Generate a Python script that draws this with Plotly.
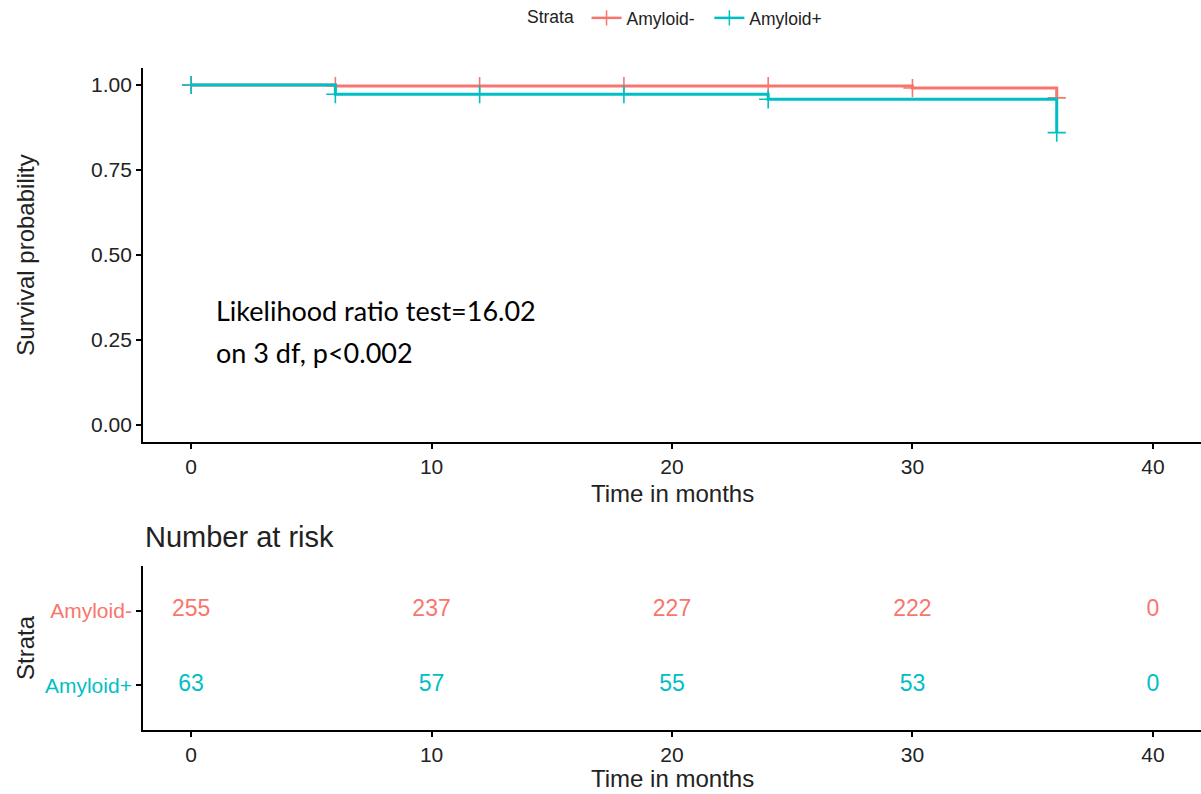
import plotly.graph_objects as go

# Kaplan-Meier step estimates per stratum
strata = ["Amyloid-", "Amyloid+"]
colors = {"Amyloid-": "#F8766D", "Amyloid+": "#00BFC4"}

neg_times = [0, 6, 12, 18, 24, 30, 36]
neg_surv = [1.0, 0.997, 0.997, 0.997, 0.997, 0.991, 0.962]
neg_censored = [1, 1, 1, 1, 1, 1, 1]

pos_times = [0, 6, 12, 18, 24, 36]
pos_surv = [1.0, 0.973, 0.973, 0.973, 0.958, 0.86]
pos_censored = [1, 1, 1, 1, 1, 1]

# Number-at-risk table
risk_times = [0, 10, 20, 30, 40]
risk_neg = [255, 237, 227, 222, 0]
risk_pos = [63, 57, 55, 53, 0]

x_ticks = [0, 10, 20, 30, 40]
y_ticks = [0, 0.25, 0.5, 0.75, 1.0]
y_tick_labels = ["0.00", "0.25", "0.50", "0.75", "1.00"]

test_lines = ["Likelihood ratio test=16.02", "on 3 df, p<0.002"]

FONT = "Liberation Sans, Arial, sans-serif"
AX = "#222222"
TICK = 21
TITLE = 24

fig = go.Figure()

curves = {
    "Amyloid-": (neg_times, neg_surv, neg_censored),
    "Amyloid+": (pos_times, pos_surv, pos_censored),
}

for name in strata:
    t, s, c = curves[name]
    col = colors[name]
    fig.add_trace(go.Scatter(
        x=t, y=s, mode="lines", line=dict(color=col, width=3, shape="hv"),
        showlegend=False, hoverinfo="skip", xaxis="x", yaxis="y"))
    ct = [ti for ti, ci in zip(t, c) if ci]
    cs = [si for si, ci in zip(s, c) if ci]
    fig.add_trace(go.Scatter(
        x=ct, y=cs, mode="markers",
        marker=dict(symbol="cross-thin", size=13, line=dict(color=col, width=1.6)),
        showlegend=False, hoverinfo="skip", xaxis="x", yaxis="y"))
    # legend key
    fig.add_trace(go.Scatter(
        x=[None], y=[None], mode="lines+markers", name=name + "  ",
        line=dict(color=col, width=2.5),
        marker=dict(symbol="cross-thin", size=11, line=dict(color=col, width=1.5)),
        xaxis="x", yaxis="y"))

# risk table numbers
risk_rows = {"Amyloid-": (2, risk_neg), "Amyloid+": (1, risk_pos)}
for name in strata:
    row, vals = risk_rows[name]
    fig.add_trace(go.Scatter(
        x=risk_times, y=[row] * len(risk_times), mode="text",
        text=[str(v) for v in vals],
        textfont=dict(family=FONT, size=23, color=colors[name]),
        showlegend=False, hoverinfo="skip", xaxis="x2", yaxis="y2"))

axis_common = dict(
    showline=True, linecolor="black", linewidth=1.8,
    ticks="outside", ticklen=5, tickwidth=1.5, tickcolor="black",
    showgrid=False, zeroline=False, mirror=False,
    tickfont=dict(family=FONT, size=TICK, color=AX),
)

x_dom = [143 / 1201, 1.0]
x_mid = (x_dom[0] + x_dom[1]) / 2

fig.update_layout(
    width=1201, height=794,
    margin=dict(l=0, r=0, t=0, b=0),
    paper_bgcolor="white", plot_bgcolor="white",
    font=dict(family=FONT, color=AX),
    xaxis=dict(domain=x_dom, range=[-2, 42], tickvals=x_ticks,
               anchor="y", **axis_common),
    yaxis=dict(domain=[(794 - 442) / 794, (794 - 68) / 794], range=[-0.05, 1.05],
               tickvals=y_ticks, ticktext=y_tick_labels,
               title=dict(text="Survival probability", font=dict(size=TITLE, color=AX), standoff=50),
               anchor="x", **axis_common),
    xaxis2=dict(domain=x_dom, range=[-2, 42], tickvals=x_ticks,
                anchor="y2", **axis_common),
    yaxis2=dict(domain=[(794 - 730) / 794, (794 - 566) / 794], range=[0.4, 2.6],
                tickvals=[1, 2],
                ticktext=['<span style="color:#00BFC4">Amyloid+</span>',
                          '<span style="color:#F8766D">Amyloid-</span>'],
                title=dict(text="Strata", font=dict(size=TITLE, color=AX), standoff=4),
                anchor="x2", **axis_common),
    legend=dict(orientation="h", x=681 / 1201, xanchor="center",
                y=1 - 18 / 794, yanchor="middle",
                title=dict(text="Strata ", font=dict(size=17.5, color=AX)),
                font=dict(family=FONT, size=17.5, color=AX),
                itemwidth=30, tracegroupgap=0),
    annotations=[
        dict(text="Time in months", xref="paper", yref="paper",
             x=x_mid, y=1 - 493 / 794, xanchor="center", yanchor="middle",
             showarrow=False, font=dict(family=FONT, size=TITLE, color=AX)),
        dict(text="Time in months", xref="paper", yref="paper",
             x=x_mid, y=1 - 778 / 794, xanchor="center", yanchor="middle",
             showarrow=False, font=dict(family=FONT, size=TITLE, color=AX)),
        dict(text=test_lines[0], xref="paper", yref="paper",
             x=214 / 1201, y=1 - 310 / 794, xanchor="left", yanchor="middle",
             showarrow=False,
             font=dict(family="Lato, Carlito, Calibri, sans-serif", size=27, color="black")),
        dict(text=test_lines[1], xref="paper", yref="paper",
             x=214 / 1201, y=1 - 352 / 794, xanchor="left", yanchor="middle",
             showarrow=False,
             font=dict(family="Lato, Carlito, Calibri, sans-serif", size=27, color="black")),
        dict(text="Number at risk", xref="paper", yref="paper",
             x=143 / 1201, y=1 - 537 / 794, xanchor="left", yanchor="middle",
             showarrow=False, font=dict(family=FONT, size=29, color=AX)),
    ],
)

fig.write_html("out.html")
